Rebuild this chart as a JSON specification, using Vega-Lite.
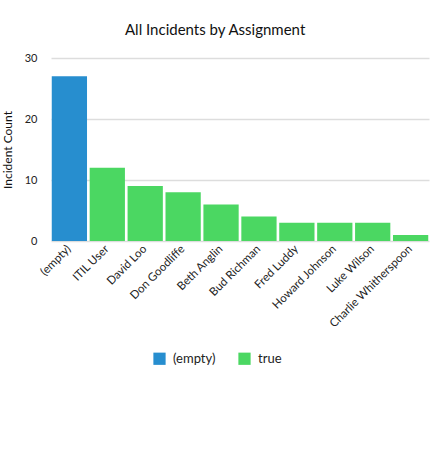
{
  "$schema": "https://vega.github.io/schema/vega-lite/v6.json",
  "autosize": {"type": "none"},
  "width": 378,
  "height": 183,
  "padding": {"left": 51, "top": 58, "right": 13, "bottom": 233},
  "background": "white",
  "title": {"text": "All Incidents by Assignment", "anchor": "middle", "frame": "bounds", "fontSize": 15, "fontWeight": "normal", "font": "Lato", "color": "#111", "offset": 14},
  "data": {"values": [
    {"name": "(empty)", "count": 27, "active": "(empty)"},
    {"name": "ITIL User", "count": 12, "active": "true"},
    {"name": "David Loo", "count": 9, "active": "true"},
    {"name": "Don Goodliffe", "count": 8, "active": "true"},
    {"name": "Beth Anglin", "count": 6, "active": "true"},
    {"name": "Bud Richman", "count": 4, "active": "true"},
    {"name": "Fred Luddy", "count": 3, "active": "true"},
    {"name": "Howard Johnson", "count": 3, "active": "true"},
    {"name": "Luke Wilson", "count": 3, "active": "true"},
    {"name": "Charlie Whitherspoon", "count": 1, "active": "true"}
  ]},
  "mark": {"type": "bar", "stroke": "white", "strokeWidth": 0},
  "encoding": {
    "x": {"field": "name", "type": "nominal", "sort": null, "title": null,
      "scale": {"paddingInner": 0.07, "paddingOuter": 0.02},
      "axis": {"labelAngle": -45, "labelAlign": "right", "labelBaseline": "middle", "ticks": false, "domain": false, "labelFontSize": 11.5, "labelFont": "Lato", "labelColor": "#222", "labelPadding": 6}},
    "y": {"field": "count", "type": "quantitative", "title": "Incident Count",
      "scale": {"domain": [0, 30]},
      "axis": {"values": [0, 10, 20, 30], "ticks": false, "domain": false, "grid": true, "gridColor": "#ddd", "gridWidth": 1.5, "labelFontSize": 11, "labelFont": "Lato", "labelColor": "#222", "labelPadding": 14, "titleFontSize": 12, "titleFont": "Lato", "titleFontWeight": "normal", "titleColor": "#111", "titlePadding": 10}},
    "color": {"field": "active", "type": "nominal", "title": null,
      "scale": {"domain": ["(empty)", "true"], "range": ["#278ECF", "#4BD762"]},
      "legend": {"orient": "none", "direction": "horizontal", "legendX": 102, "legendY": 294, "symbolType": "square", "symbolSize": 150, "symbolStrokeWidth": 0, "labelFontSize": 13, "labelFont": "Lato", "labelColor": "#222", "columnPadding": 22, "labelOffset": 7}}
  },
  "config": {"view": {"stroke": null}}
}
